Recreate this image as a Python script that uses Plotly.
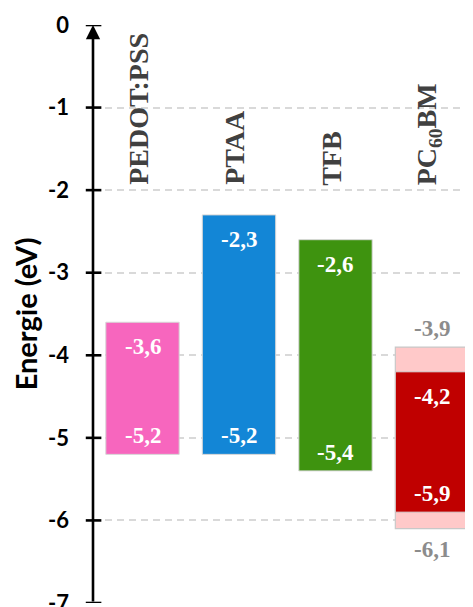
import plotly.graph_objects as go

# ---- data ----
materials = ["PEDOT:PSS", "PTAA", "TFB", "PC<sub>60</sub>BM"]
lumo = [-3.6, -2.3, -2.6, -4.2]
homo = [-5.2, -5.2, -5.4, -5.9]
lumo_labels = ["-3,6", "-2,3", "-2,6", "-4,2"]
homo_labels = ["-5,2", "-5,2", "-5,4", "-5,9"]
colors = ["#F766BE", "#1386D6", "#3E930F", "#C00000"]
pcbm_outer = [-3.9, -6.1]
pcbm_outer_labels = ["-3,9", "-6,1"]
yticks = [0, -1, -2, -3, -4, -5, -6, -7]

serif = "Liberation Serif"
sans = "Lato"

x_idx = list(range(len(materials)))
fig = go.Figure()

# light range bar for PC60BM
fig.add_trace(go.Bar(
    x=[x_idx[3]], y=[pcbm_outer[0] - pcbm_outer[1]], base=[pcbm_outer[1]],
    width=0.76, marker=dict(color="#FFC9C9", line=dict(color="#C8C8C8", width=1.2)),
    showlegend=False, hoverinfo="skip"))

fig.add_trace(go.Bar(
    x=x_idx, y=[l - h for l, h in zip(lumo, homo)], base=homo,
    width=0.76, marker=dict(color=colors, line=dict(color="#D6D6D6", width=1)),
    showlegend=False, hoverinfo="skip"))

annotations = []
for i, name in enumerate(materials):
    annotations.append(dict(
        x=i, y=-1.93, xref="x", yref="y", text=f"<b>{name}</b>", showarrow=False,
        textangle=-90, yanchor="bottom", xanchor="center", xshift=-4, yshift=-3,
        font=dict(family=serif, size=28, color="#404040")))
    annotations.append(dict(
        x=i, y=lumo[i], text=f"<b>{lumo_labels[i]}</b>", showarrow=False,
        yanchor="top", yshift=-10, font=dict(family=serif, size=23, color="white")))
    annotations.append(dict(
        x=i, y=homo[i], text=f"<b>{homo_labels[i]}</b>", showarrow=False,
        yanchor="bottom", yshift=4, font=dict(family=serif, size=23, color="white")))

annotations.append(dict(
    x=3, y=pcbm_outer[0], text=f"<b>{pcbm_outer_labels[0]}</b>", showarrow=False,
    yanchor="bottom", yshift=4, font=dict(family=serif, size=23, color="#8C8C8C")))
annotations.append(dict(
    x=3, y=pcbm_outer[1], text=f"<b>{pcbm_outer_labels[1]}</b>", showarrow=False,
    yanchor="top", yshift=-6, font=dict(family=serif, size=23, color="#8C8C8C")))

# axis line with arrow
annotations.append(dict(
    x=0, y=0, xref="paper", yref="y", ax=0, ay=yticks[-1], axref="pixel", ayref="y",
    showarrow=True, arrowhead=2, arrowsize=1.1, arrowwidth=2.6, arrowcolor="black",
    text="", standoff=0, startstandoff=0))

shapes = []
for t in yticks:
    shapes.append(dict(type="line", xref="paper", yref="y", x0=-0.019, x1=0.022,
                       y0=t, y1=t, line=dict(color="black", width=2.6), layer="above"))

# page body has an 8px margin, so the figure is sized/offset to compensate
fig.update_layout(
    width=465, height=599,
    margin=dict(l=85, r=0, t=17, b=4),
    paper_bgcolor="white", plot_bgcolor="white",
    barmode="overlay",
    annotations=annotations, shapes=shapes,
    xaxis=dict(range=[-0.513, 3.425], showgrid=False, zeroline=False,
               showticklabels=False, showline=False, ticks="", automargin=False),
    yaxis=dict(range=[yticks[-1], yticks[0]], tickvals=yticks,
               ticktext=[str(t) for t in yticks],
               showgrid=True, gridcolor="#D9D9D9", griddash="7px,5px", gridwidth=1.5,
               zeroline=False, showline=False, ticks="",
               ticklabelstandoff=23, ticklabeloverflow="allow", automargin=False,
               tickfont=dict(family=sans, size=22, color="black", weight="bold"),
               title=dict(text="<b>Energie (eV)</b>", standoff=5,
                          font=dict(family=sans, size=29, color="black"))),
)

fig.write_html("out.html")
